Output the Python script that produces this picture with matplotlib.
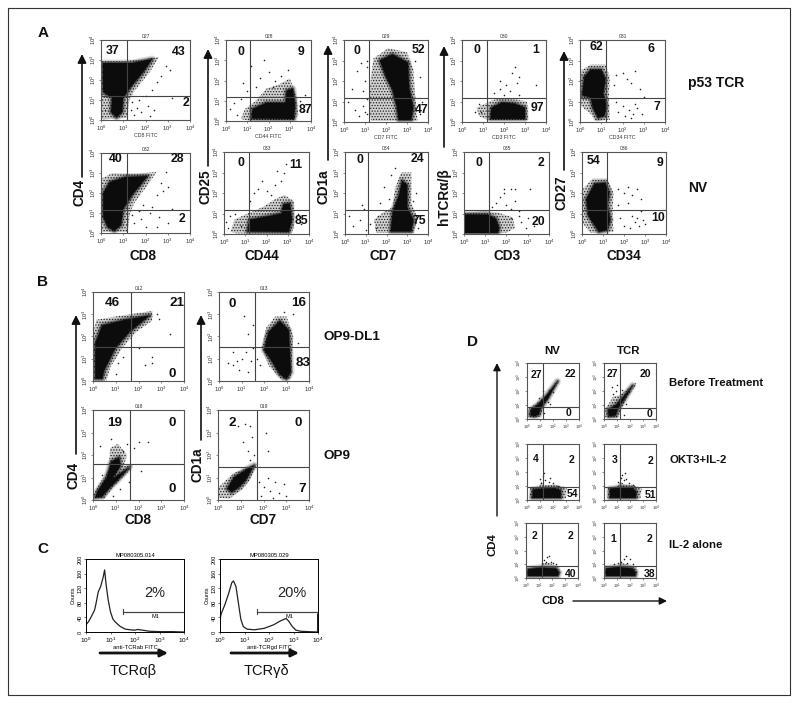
# FLOW CYTOMETRY PANELS A-D
import matplotlib
matplotlib.use('Agg')
import matplotlib.pyplot as plt

plt.rcParams['font.family'] = ['Liberation Sans', 'DejaVu Sans']
plt.rcParams['mathtext.fontset'] = 'custom'
plt.rcParams['mathtext.rm'] = 'Liberation Sans'
plt.rcParams['hatch.linewidth'] = 0.6

W, H = 800, 704

# dot plot data, all in log10 decades (x, y): halo = speckled outline, core = solid outline
a11_halo = [(0,2.95),(1,2.95),(2,3.05),(2.6,3.15),(2.2,2.4),(1.5,1.45),(1.25,0.9),(1.2,0.1),(0,0.03)]
a11_core = [(0.08,2.85),(1.4,2.85),(2.3,3.05),(1.9,2.4),(1.3,1.6),(1,1.1),(0.95,0.4),(0.7,0.12),(0.45,0.4),(0.5,1.1),(0.1,1.4)]
a11_dots = [(1.4,0.9),(1.6,0.6),(1.8,0.4),(1.5,0.25),(2.1,0.7),(2.4,0.5),(1.7,1),(1.35,0.5),(2.9,2.7),(3.1,2.5),(2.7,2.2),(2.5,1.9),(2.3,1.5),(3.2,1.1),(2,1.2),(2.2,0.2),(0.2,0.5),(0.15,1.2)]
a12_halo = [(0.7,0.1),(0.9,0.6),(1.4,1),(1.9,1.6),(2.5,1.8),(3.0,2.1),(3.3,1.3),(3.4,0.3),(3.2,0.03),(1,0.03)]
a12_core = [(1.2,0.12),(1.25,0.6),(1.9,0.9),(2.8,0.9),(2.85,1.5),(3.15,1.6),(3.25,0.8),(3.2,0.1)]
a12_dots = [(0.2,0.6),(0.4,0.9),(0.5,0.3),(0.7,1.1),(1,1.5),(1.4,1.7),(1.6,2.1),(2,2.4),(2.3,2),(2.6,2.2),(1.2,2.7),(1.8,3.0),(3.5,1),(3.6,0.5),(3.7,1.3),(2.2,1.7),(2.9,2.5),(0.8,1.9)]
a13_halo = [(1.4,3.1),(2.1,3.6),(3,3.4),(3.3,2.6),(3.4,1.2),(3.5,0.05),(1.3,0.05),(1.2,0.5),(1.2,1.3),(1.3,2.3)]
a13_core = [(1.7,3.0),(2.3,3.3),(3.05,2.9),(3.1,1.7),(3.3,0.7),(3.2,0.1),(2.6,0.1),(2.5,0.8),(2.3,1.6),(2.0,2.2)]
a13_dots = [(0.2,1.0),(0.5,0.6),(0.7,0.3),(0.9,0.8),(0.6,2.5),(0.8,2.9),(1,2),(0.9,1.5),(0.4,1.6),(1.1,2.7),(1.1,3),(3.6,2.2),(3.7,1),(3.6,0.4),(1,0.5),(1.1,0.4),(1.1,1.1),(3.4,3)]
a14_halo = [(0.7,0.7),(1.3,1),(1.7,1.15),(2.6,1.1),(3.1,1),(3.15,0.1),(1.2,0.1),(0.8,0.3)]
a14_core = [(1.35,0.15),(1.4,0.7),(1.9,0.95),(2.5,0.9),(3,0.7),(3,0.15)]
a14_dots = [(0.8,0.9),(0.9,0.5),(0.6,0.5),(1.5,1.4),(1.8,1.6),(2,1.3),(2.3,1.5),(2.6,1.9),(1.8,2),(2.4,2.4),(2.5,2.7),(2.7,1.3),(3.4,0.6),(3.5,1.8),(2.1,1.8),(2.7,2.2)]
a15_halo = [(0.02,2.5),(0.5,2.8),(1.2,2.8),(1.4,2.2),(1.35,1),(1.4,0.1),(0.7,0.05),(0.5,0.4),(0.02,0.8)]
a15_core = [(0.1,1.3),(0.2,2.2),(0.5,2.55),(1,2.55),(1.2,2.1),(1.1,1.4),(1.25,0.8),(1.15,0.3),(0.85,0.2),(0.6,0.7),(0.5,1.2)]
a15_dots = [(1.7,2.3),(2,2.4),(2.2,2.1),(2.4,1.9),(2.6,2.5),(1.6,1.8),(2.8,1.6),(2,0.8),(2.3,0.6),(2.5,0.4),(2.7,0.7),(2.4,0.2),(2.9,0.4),(1.7,1),(1.8,0.5),(3,1.2),(2.1,0.3),(2.6,0.9)]
a21_halo = [(0,2.7),(0.5,3),(1.6,2.95),(2.5,3.05),(2.1,2.4),(1.5,1.5),(1.3,1),(1.2,0.05),(0,0.05)]
a21_core = [(0.1,2.0),(0.4,2.55),(1.1,2.8),(2.1,2.85),(1.4,1.9),(1,1.2),(0.9,0.4),(0.6,0.1),(0.3,0.3),(0.1,0.8)]
a21_dots = [(1.4,0.9),(1.5,0.5),(1.8,0.7),(2,0.3),(2.2,1),(1.7,1.1),(2.6,0.8),(2.3,1.3),(2.7,2.5),(2.8,2.1),(2.5,1.9),(3,2.3),(3.2,1.2),(2.5,0.3),(1.9,1.4),(3,0.5),(2.9,3.05)]
a22_halo = [(0.3,0.1),(0.5,0.7),(1.1,1),(1.8,1.3),(2.4,1.7),(2.85,1.9),(3.3,1.6),(3.3,0.3),(3.15,0.03),(0.6,0.03)]
a22_core = [(1.1,0.12),(1.2,0.7),(2,0.85),(2.7,1),(2.8,1.45),(3.1,1.5),(3.2,0.7),(3.05,0.1)]
a22_dots = [(0.1,0.6),(0.3,0.9),(0.2,0.3),(0.5,1),(0.8,0.4),(1.2,1.6),(1.4,2),(1.6,2.2),(2,2.1),(2.4,2.4),(2.7,2.6),(2.8,3),(2.9,3.4),(2.2,1.9),(1.8,2.6),(3.5,1),(3.6,0.5),(2.5,3.05)]
a23_halo = [(1.4,0.7),(1.9,1.1),(2.3,1.3),(2.4,2.2),(2.7,3),(3.2,3),(3.2,1.5),(3.5,0.8),(3.3,0.05),(1.5,0.05)]
a23_core = [(2.2,0.12),(2.3,1.1),(2.6,1.9),(2.75,2.6),(3,2.4),(3,1.3),(3.3,0.7),(3.2,0.12)]
a23_dots = [(0.4,0.4),(0.7,0.7),(0.9,1.2),(0.8,1.4),(0.2,0.9),(1.2,0.5),(1.5,0.3),(1,0.2),(1.7,1.5),(1.9,2.3),(2.1,1.7),(2.2,2.9),(2.4,3.2),(3.4,2),(3.6,0.9),(3.5,0.3),(1.6,0.9),(3.3,1.6)]
a24_halo = [(0,0.05),(0,1.05),(1,1.1),(1.6,1.05),(2.3,0.8),(2.4,0.3),(2,0.05)]
a24_core = [(0,0.05),(0,0.95),(1.1,0.95),(1.5,0.75),(1.65,0.3),(1.6,0.05)]
a24_dots = [(1.3,1.3),(1.5,1.5),(1.7,1.8),(1.9,2),(2,1.4),(2.2,1.2),(2.4,1.6),(1.9,2.2),(2.4,2.2),(2.2,2.2),(2.6,0.9),(2.7,0.6),(2.9,0.3),(3,0.8),(3.1,2.2),(2.6,1.1),(3.3,0.4),(2.2,0.8)]
a25_halo = [(0.05,0.5),(0.05,2.2),(0.5,2.7),(1.2,2.7),(1.5,2),(1.45,0.9),(1.5,0.1),(0.4,0.05)]
a25_core = [(0.3,0.9),(0.2,1.7),(0.6,2.45),(1.1,2.5),(1.3,2),(1.2,1.4),(1.35,0.7),(1.2,0.2),(0.8,0.1)]
a25_dots = [(1.7,2.2),(2,2),(2.2,2.3),(2.4,1.9),(2.6,2.2),(2.8,1.7),(1.7,1.4),(2.2,1.5),(2.4,0.9),(2.5,0.6),(2.7,0.4),(2.3,0.3),(2.6,0.8),(2.9,0.7),(3,0.5),(1.8,0.8),(2,0.4),(2.8,1.1)]
b11_halo = [(0,2.1),(0.15,2.75),(1.3,2.95),(2.6,3.15),(2.6,2.7),(1.9,2.2),(1.3,1.5),(0.75,0.6),(0.6,0.03),(0,0.03)]
b11_core = [(0.1,0.1),(0.1,1.7),(0.4,2.5),(1.4,2.75),(2.5,2.95),(1.6,2.2),(1,1.5),(0.5,0.5),(0.4,0.1)]
b11_dots = [(2.8,3),(2.9,2.8),(3.4,2.1),(2.6,1.1),(2.3,0.7),(2.6,0.8),(1,0.3),(1.1,0.8),(1.3,1.1),(2,1.5)]
b12_halo = [(1.9,1.5),(2.1,2.4),(2.5,2.9),(3,2.9),(3.3,2),(3.25,1),(3.2,0.1),(2.8,0.03),(2.2,0.7)]
b12_core = [(2.0,1.4),(2.2,2.2),(2.7,2.7),(3.1,2.3),(3.15,1.3),(3.2,0.4),(3,0.08),(2.7,0.3),(2.4,0.8)]
b12_dots = [(0.6,0.7),(0.8,0.9),(1,1),(1.2,1.3),(0.9,0.5),(0.6,1.3),(1.3,2.1),(1.5,2.5),(1.1,2.9),(1.5,1.5),(1.4,0.9),(1.7,1),(1.3,0.4),(0.4,0.8),(3.3,3),(2.9,3.1),(1.8,0.7),(3.5,1.7)]
b21_halo = [(0,0.1),(0.1,0.4),(0.7,1.4),(0.75,2.3),(1.1,2.5),(1.5,2),(1.35,1.5),(1.8,1.6),(1.5,1.2),(0.9,0.6),(0.5,0.05)]
b21_core = [(0.1,0.1),(0.2,0.4),(0.6,1),(0.8,1.7),(1.15,1.9),(1.2,1.5),(0.85,0.95),(1.6,1.45),(1.1,0.9),(0.7,0.5),(0.4,0.15)]
b21_dots = [(0.3,2.4),(1.5,2.5),(2,2.6),(2.4,2.6),(1.8,2.3),(0.8,2.7),(1.3,2.2),(0.9,0.2),(1.2,0.5),(0.4,1.1),(1.6,0.8),(2.1,1.3)]
b22_halo = [(0.02,0.1),(0.05,0.6),(0.7,1.2),(1.7,1.6),(1.4,0.9),(1.1,0.5),(0.5,0.05)]
b22_core = [(0.4,0.5),(0.7,1),(1.3,1.4),(1.6,1.55),(1.2,0.85),(0.9,0.55),(0.6,0.35)]
b22_dots = [(1.2,3.4),(1.4,3.3),(1.5,2.8),(1.3,2.2),(1.6,2),(1.1,2.6),(1.4,1.8),(0.9,3.3),(2.2,2.2),(2.1,3),(1.8,0.8),(2,0.6),(2.3,0.4),(2.5,0.8),(2.7,0.3),(2.2,1),(1.9,0.2),(2.9,0.7),(2.4,0.1),(3,0.2)]
d11_halo = [(0.1,0.15),(0.1,0.7),(0.7,1.1),(1.5,1.7),(2.4,2.8),(2.5,2.7),(1.7,1.5),(1.2,0.8),(1.1,0.2),(0.5,0.05)]
d11_core = [(0.25,0.25),(0.3,0.65),(0.8,1),(1.5,1.7),(2.35,2.7),(1.6,1.45),(1.1,0.85),(0.9,0.3),(0.6,0.2)]
d11_dots = [(0.9,1.5),(1.2,2),(1.6,1.2),(1.8,1.1),(1.3,0.4),(1.7,2.1),(2,1.9)]
d12_halo = [(0.1,0.15),(0.1,0.7),(0.7,1.6),(1.2,1.7),(2.4,2.6),(2.5,2.5),(1.7,1.4),(1.3,0.6),(1.1,0.1),(0.4,0.05)]
d12_core = [(0.35,0.2),(0.3,0.65),(0.9,1),(1.5,1.6),(2.2,2.4),(1.5,1.3),(1.1,0.8),(0.9,0.25)]
d12_dots = [(0.6,2.3),(0.9,2),(0.7,1.8),(1,2.4),(1.4,2.1),(1.7,1.1),(1.5,0.3),(1.9,1.9)]
d21_halo = [(0.2,0.1),(0.25,0.9),(0.9,0.95),(1.1,1.3),(1.3,1.05),(2.2,1.1),(3.05,0.85),(3,0.1)]
d21_core = [(0.4,0.15),(0.45,0.75),(1.1,0.8),(2.1,0.85),(2.6,0.7),(2.6,0.15),(1.1,0.15)]
d21_dots = [(1,1.5),(1.2,1.7),(1.4,1.4),(1.1,1.2),(1.7,1.3),(2,1.2),(2.4,1),(1.3,1.9),(1.8,1.6),(2.8,0.9)]
d22_halo = [(0.25,0.1),(0.3,0.9),(1.0,0.95),(1.3,1.3),(1.6,1.1),(2.3,1.05),(2.9,0.8),(2.8,0.1)]
d22_core = [(0.45,0.15),(0.45,0.8),(1.2,0.9),(2.2,0.85),(2.5,0.6),(2.45,0.15)]
d22_dots = [(1.1,1.3),(1.3,1.6),(1.4,1.8),(1.5,1.4),(1.2,1.1),(1.9,1.2),(1.7,1.5),(2.2,1.1),(1.6,1.9)]
d31_halo = [(0.02,0.2),(0.1,0.7),(1,0.85),(1.4,1.1),(1.8,1.1),(2.5,0.8),(2.65,0.4),(2.5,0.1),(0.3,0.07)]
d31_core = [(0.12,0.15),(0.15,0.65),(1.1,0.75),(2.3,0.7),(2.55,0.4),(2.45,0.15)]
d31_dots = [(1.2,1.1),(1.4,1.3),(1.6,1.5),(1.8,1.6),(1.5,1.2),(1.9,1.2),(2.1,1.1),(2.3,1)]
d32_halo = [(0.02,0.2),(0.1,0.7),(1,0.85),(1.3,1.1),(1.8,1),(2.5,0.8),(2.6,0.4),(2.5,0.1),(0.2,0.07)]
d32_core = [(0.15,0.15),(0.15,0.7),(1.1,0.8),(2.2,0.7),(2.45,0.4),(2.4,0.15)]
d32_dots = [(0.8,1),(1.1,1.1),(1.3,1.2),(1.5,1.4),(1.7,1.6),(2,1.4),(1.8,1.1),(2.2,1)]

# quadrant gates in decades
a_row1_gates = [(1.15,1.18),(1.15,1.17),(1.17,1.17),(1.19,1.17),(1.2,1.19)]
a_row2_gates = [(1.15,1.16),(1.18,1.16),(1.12,1.16),(1.2,1.16),(1.2,1.16)]
b_gates = [(1.65,1.54),(1.62,1.54),(1.62,1.58),(1.71,1.48)]
d_gates = [(1.23,0.86),(1.25,0.76),(1.2,0.95),(1.22,0.95),(1.26,0.89),(1.22,0.89)]

# quadrant percentages
a_row1_pct = [['37','43','2'],['0','9','87'],['0','52','47'],['0','1','97'],['62','6','7']]
a_row2_pct = [['40','28','2'],['0','11','85'],['0','24','75'],['0','2','20'],['54','9','10']]
b_pct = [['46','21','0'],['0','16','83'],['19','0','0'],['2','0','7']]
d_pct = [['27','22','0'],['27','20','0'],['4','2','54'],['3','2','51'],['2','2','40'],['1','2','38']]

a_row1_tags = ['027','028','029','030','031']
a_row2_tags = ['032','033','034','035','036']
b_tags = ['012','013','018','019']
a_row1_xnames = ['CD8 FITC','CD44 FITC','CD7 FITC','CD3 FITC','CD34 FITC']

# histograms, decades vs counts
c1_x = [0,0,0.1,0.2,0.35,0.4,0.5,0.6,0.7,0.76,0.82,0.9,1.0,1.1,1.2,1.4,1.6,1.8,2.0,2.1,2.3,2.6,3,3.5,4]
c1_y = [105,20,28,40,60,75,110,125,150,170,130,90,55,35,27,15,8,6,5,7,5,2,1,1,0]
c2_x = [0,0.05,0.2,0.35,0.48,0.55,0.65,0.75,0.85,0.95,1.1,1.4,1.8,2.0,2.2,2.4,2.55,2.7,2.8,2.95,3.1,3.3,3.6,3.98,4,4]
c2_y = [35,50,75,105,135,140,125,80,35,15,8,6,10,15,20,28,33,37,30,15,5,2,1,0,50,0]
m1_start = 1.5
m1_level = 55


def px_axes(fig, left, top, right, bottom):
    return fig.add_axes([left/W, 1-bottom/H, (right-left)/W, (bottom-top)/H])


def dot_panel(box, halo, core, dots, gate, pct, pct_pos, tag=None, xname=None, fs=8.8, tick_fs=4.2, gate_c='#444444'):
    ax = px_axes(fig, *box)
    ax.fill(*zip(*halo), facecolor='#d0d0d0', edgecolor='#222222', hatch='......', lw=0)
    # soft edge round the dense part, thick strokes first
    for lw, a in [(5, 0.15), (3, 0.25), (1.5, 0.4)]:
        ax.fill(*zip(*core), facecolor='none', edgecolor=(0, 0, 0, a), lw=lw, joinstyle='round')
    ax.fill(*zip(*core), facecolor='#0c0c0c', edgecolor='none')
    ax.scatter(*zip(*dots), s=1.3, color='#222222', linewidths=0)
    ax.axvline(gate[0], color=gate_c, lw=0.8)
    ax.axhline(gate[1], color=gate_c, lw=0.8)
    ax.set_xlim(0, 4)
    ax.set_ylim(0, 4)
    ax.set_xticks(range(5))
    ax.set_yticks(range(5))
    ax.set_xticklabels([r'$10^{%d}$' % i for i in range(5)], fontsize=tick_fs)
    ax.set_yticklabels([r'$10^{%d}$' % i for i in range(5)], fontsize=tick_fs, rotation=90, va='center')
    ax.tick_params(length=1.5, width=0.4, pad=1, color='#333333', labelcolor='#333333')
    for s in ax.spines.values():
        s.set_linewidth(0.8)
        s.set_color('#555555')
    for txt, (fx, fy) in zip(pct, pct_pos):
        ax.text(fx, fy, txt, transform=ax.transAxes, fontsize=fs, fontweight='bold', ha='center', va='center', color='#111111')
    if tag:
        ax.text(0.5, 1.015, tag, transform=ax.transAxes, fontsize=3.6, ha='center', va='bottom', color='#333333')
    if xname:
        ax.set_xlabel(xname, fontsize=3.8, labelpad=0.5, color='#333333')
    return ax


def hist_panel(box, xs, ys, title, xname, pct, px):
    ax = px_axes(fig, *box)
    ax.plot(xs, ys, color='#222222', lw=0.9)
    ax.set_xlim(0, 4)
    ax.set_ylim(0, 200)
    ax.set_xticks(range(5))
    ax.set_xticklabels([r'$10^{%d}$' % i for i in range(5)], fontsize=4.6)
    ax.set_yticks(range(0, 201, 40))
    ax.set_yticklabels(range(0, 201, 40), fontsize=4, rotation=90, va='center')
    ax.tick_params(length=1.5, width=0.4, pad=1)
    ax.set_ylabel('Counts', fontsize=4, labelpad=1)
    ax.set_xlabel(xname, fontsize=4.2, labelpad=0)
    ax.set_title(title, fontsize=4.2, pad=1.5)
    ax.plot([m1_start, 4], [m1_level, m1_level], color='#444444', lw=0.9)
    ax.plot([m1_start, m1_start], [m1_level-7, m1_level+7], color='#444444', lw=0.8)
    ax.text(2.85, m1_level-6, 'M1', fontsize=4, ha='center', va='top')
    for s in ax.spines.values():
        s.set_linewidth(0.7)
    over.text(px, 593, pct, fontsize=10.5, ha='center', va='center', color='#222222')
    return ax


fig = plt.figure(figsize=(W/100, H/100), dpi=100, facecolor='white')

# full page layer in pixel coordinates for labels, arrows and the frame
over = fig.add_axes([0, 0, 1, 1], zorder=5)
over.set_xlim(0, W)
over.set_ylim(H, 0)
over.axis('off')
over.patch.set_alpha(0)

a_row1_boxes = [(101,40,190,120),(226,40,311,121),(344,40,428,122),(462,40,546,122),(580,40,665,122)]
a_row2_boxes = [(101,153,190,233),(224,152,309,234),(345,152,428,234),(464,152,549,234),(582,152,666,234)]
b_boxes = [(93,292,184,381),(219,292,309,381),(93,410,184,500),(218,410,309,500)]
d_boxes = [(527,363,579,419),(604,363,656,419),(527,444,579,500),(604,444,656,500),(526,523,578,578),(604,523,656,578)]

a_row1_pos = [[(.13,.86),(.87,.85),(.95,.21)],[(.18,.85),(.88,.85),(.93,.14)],[(.15,.87),(.89,.88),(.92,.15)],[(.18,.88),(.88,.88),(.90,.17)],[(.19,.91),(.84,.89),(.90,.18)]]
a_row2_pos = [[(.17,.92),(.86,.92),(.91,.17)],[(.20,.87),(.84,.84),(.91,.16)],[(.18,.90),(.87,.91),(.90,.16)],[(.18,.87),(.91,.86),(.87,.15)],[(.14,.89),(.93,.87),(.91,.19)]]
b_pos = [[(.21,.88),(.92,.88),(.875,.075)],[(.15,.86),(.88,.88),(.93,.20)],[(.24,.86),(.875,.86),(.875,.12)],[(.155,.86),(.88,.86),(.93,.12)]]
d_pos = [[(.18,.79),(.83,.80),(.80,.11)],[(.16,.80),(.80,.80),(.88,.09)],[(.16,.74),(.85,.71),(.87,.11)],[(.21,.71),(.90,.70),(.89,.09)],[(.17,.76),(.86,.76),(.86,.08)],[(.18,.71),(.88,.70),(.88,.08)]]

a_row1 = [(a11_halo,a11_core,a11_dots),(a12_halo,a12_core,a12_dots),(a13_halo,a13_core,a13_dots),(a14_halo,a14_core,a14_dots),(a15_halo,a15_core,a15_dots)]
a_row2 = [(a21_halo,a21_core,a21_dots),(a22_halo,a22_core,a22_dots),(a23_halo,a23_core,a23_dots),(a24_halo,a24_core,a24_dots),(a25_halo,a25_core,a25_dots)]
b_row = [(b11_halo,b11_core,b11_dots),(b12_halo,b12_core,b12_dots),(b21_halo,b21_core,b21_dots),(b22_halo,b22_core,b22_dots)]
d_row = [(d11_halo,d11_core,d11_dots),(d12_halo,d12_core,d12_dots),(d21_halo,d21_core,d21_dots),(d22_halo,d22_core,d22_dots),(d31_halo,d31_core,d31_dots),(d32_halo,d32_core,d32_dots)]

for i in range(5):
    dot_panel(a_row1_boxes[i], *a_row1[i], a_row1_gates[i], a_row1_pct[i], a_row1_pos[i], a_row1_tags[i], a_row1_xnames[i])
    dot_panel(a_row2_boxes[i], *a_row2[i], a_row2_gates[i], a_row2_pct[i], a_row2_pos[i], a_row2_tags[i])
for i in range(4):
    dot_panel(b_boxes[i], *b_row[i], b_gates[i], b_pct[i], b_pos[i], b_tags[i], fs=9.7)
for i in range(6):
    dot_panel(d_boxes[i], *d_row[i], d_gates[i], d_pct[i], d_pos[i], fs=7.5, tick_fs=3)

hist_panel((86,559,184,632), c1_x, c1_y, 'MP080305.014', 'anti-TCRab FITC', '2%', 155)
hist_panel((220,559,318,632), c2_x, c2_y, 'MP080305.029', 'anti-TCRgd FITC', '20%', 292)


def up_arrow(x, y0, y1, lw=1.2, ms=13):
    over.annotate('', xy=(x, y1), xytext=(x, y0), arrowprops=dict(arrowstyle='-|>', color='#111111', lw=lw, mutation_scale=ms, shrinkA=0, shrinkB=0))


def label(x, y, s, fs=9.8, rot=0, weight='bold', ha='center'):
    over.text(x, y, s, fontsize=fs, fontweight=weight, rotation=rot, ha=ha, va='center', color='#111111')


# page frame
over.plot([8, 8, 790, 790, 8], [8, 695, 695, 8, 8], color='#333333', lw=0.8)

for x, y, s in [(43,33,'A'),(42,282,'B'),(43,549,'C'),(473,342,'D')]:
    label(x, y, s, fs=11)

# panel A labels
for x, y0, y1 in [(82,177,54),(208,166,49),(328,160,45),(444,147,46),(564,170,51)]:
    up_arrow(x, y0, y1)
for x, y, s in [(79,192,'CD4'),(206,187,'CD25'),(323,187,'CD1a'),(444,197,'hTCRα/β'),(562,193,'CD27')]:
    label(x, y, s, rot=90)
for x, s in [(143,'CD8'),(262,'CD44'),(383,'CD7'),(507,'CD3'),(624,'CD34')]:
    label(x, 256, s)
label(688, 83, 'p53 TCR', fs=10, ha='left')
label(688, 188, 'NV', fs=10, ha='left')

# panel B labels
up_arrow(76, 454, 315)
up_arrow(201, 440, 315)
label(74, 475, 'CD4', rot=90)
label(197, 465, 'CD1a', rot=90)
label(138, 520, 'CD8')
label(263, 520, 'CD7')
label(323, 337, 'OP9-DL1', fs=9.7, ha='left')
label(323, 456, 'OP9', fs=9.7, ha='left')

# panel C labels
for x0, x1 in [(100,168),(231,299)]:
    over.annotate('', xy=(x1, 653), xytext=(x0, 653), arrowprops=dict(arrowstyle='-|>', color='#111111', lw=2, mutation_scale=11, shrinkA=0, shrinkB=0))
label(133, 671, 'TCRαβ', fs=10.5, weight='normal')
label(266, 671, 'TCRγδ', fs=10.5, weight='normal')

# panel D labels
up_arrow(497, 516, 363, lw=1, ms=11)
over.annotate('', xy=(667, 601), xytext=(573, 601), arrowprops=dict(arrowstyle='-|>', color='#111111', lw=1, mutation_scale=11, shrinkA=0, shrinkB=0))
label(552, 351, 'NV', fs=8.2)
label(629, 351, 'TCR', fs=8.2)
label(493, 545, 'CD4', fs=8.2, rot=90)
label(553, 601, 'CD8', fs=8.2)
label(669, 383, 'Before Treatment', fs=8.2, ha='left')
label(669, 460, 'OKT3+IL-2', fs=8.2, ha='left')
label(669, 545, 'IL-2 alone', fs=8.2, ha='left')

fig.savefig('out.png', dpi=100)
